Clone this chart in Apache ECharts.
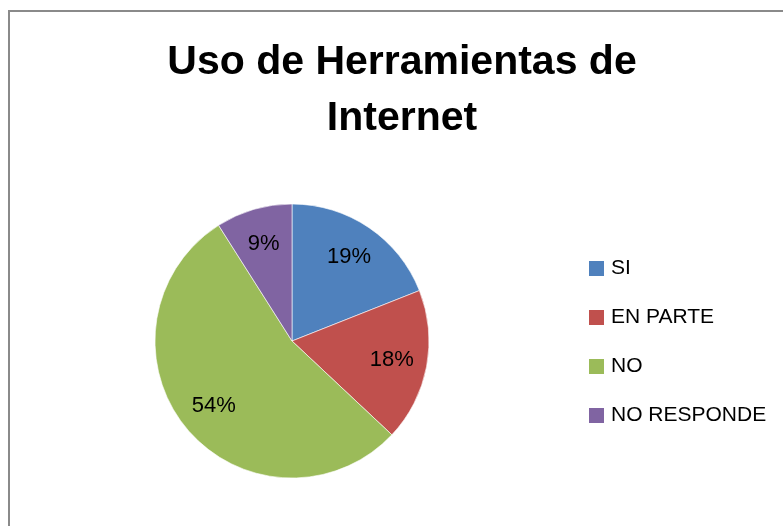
<!DOCTYPE html>
<html>
<head>
<meta charset="utf-8">
<script src="https://cdn.jsdelivr.net/npm/echarts@6/dist/echarts.min.js"></script>
<style>
  html, body { margin: 0; padding: 0; background: #fff; }
  #chart { width: 783px; height: 526px; }
</style>
</head>
<body>
<div id="chart"></div>
<script>
const categories = ['SI', 'EN PARTE', 'NO', 'NO RESPONDE']
const values = [19, 18, 54, 9]
const colors = ['#4F81BD', '#C0504D', '#9BBB59', '#8064A2']

const font = '"Liberation Sans", Arial, sans-serif'
const center = [292, 341]

const pieData = categories.map((name, i) => ({
  name,
  value: values[i],
  itemStyle: { color: colors[i] }
}))

const chart = echarts.init(document.getElementById('chart'))

chart.setOption({
  animation: false,
  backgroundColor: '#fff',
  title: {
    text: 'Uso de Herramientas de\nInternet',
    left: 402,
    top: 35,
    textAlign: 'center',
    padding: 0,
    textStyle: {
      fontFamily: font,
      fontSize: 41,
      fontWeight: 'bold',
      color: '#000',
      lineHeight: 56,
      align: 'center'
    }
  },
  legend: {
    orient: 'vertical',
    left: 589,
    top: 258,
    padding: 0,
    itemWidth: 15,
    itemHeight: 15,
    itemGap: 28,
    icon: 'rect',
    selectedMode: false,
    itemStyle: { borderWidth: 0 },
    data: categories,
    textStyle: {
      fontFamily: font,
      fontSize: 21,
      lineHeight: 21,
      color: '#000',
      padding: [0, 0, 0, 2]
    }
  },
  graphic: [{
    type: 'rect',
    shape: { x: 9, y: 11, width: 900, height: 700 },
    style: { fill: 'none', stroke: '#8a8a8a', lineWidth: 2 },
    silent: true,
    z: -1
  }],
  series: [
    {
      type: 'pie',
      center,
      radius: 137,
      startAngle: 90,
      clockwise: true,
      silent: true,
      label: { show: false },
      labelLine: { show: false },
      itemStyle: { borderColor: '#fff', borderWidth: 0.6 },
      data: pieData
    },
    {
      // label-only ring so percentages sit at ~0.72 of the radius
      type: 'pie',
      center,
      radius: [60, 137],
      startAngle: 90,
      clockwise: true,
      silent: true,
      legendHoverLink: false,
      itemStyle: { color: 'rgba(0,0,0,0)' },
      label: {
        show: true,
        position: 'inside',
        formatter: '{d}%',
        fontFamily: font,
        fontSize: 22,
        color: '#000'
      },
      labelLine: { show: false },
      data: pieData.map(d => ({ name: d.name, value: d.value, itemStyle: { color: 'rgba(0,0,0,0)' } }))
    }
  ]
})
</script>
</body>
</html>
